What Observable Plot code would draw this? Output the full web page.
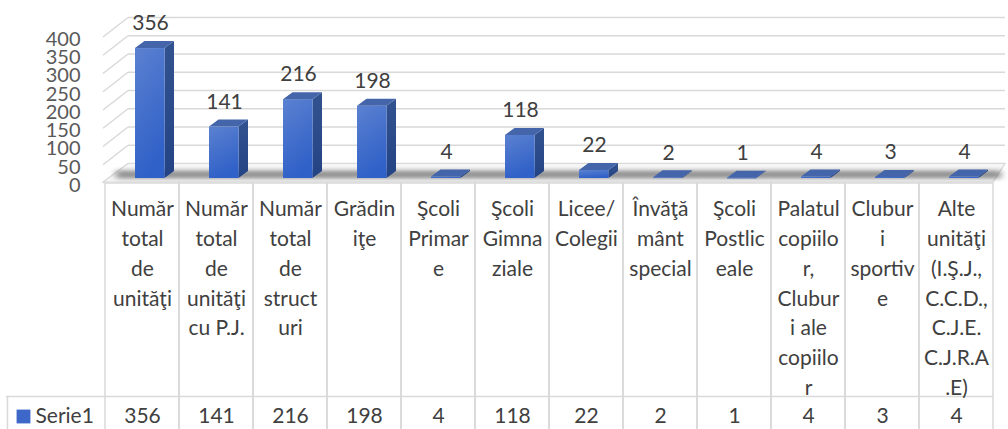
<!DOCTYPE html>
<html>
<head>
<meta charset="utf-8">
<script src="https://cdn.jsdelivr.net/npm/d3@7"></script>
<script src="https://cdn.jsdelivr.net/npm/@observablehq/plot@0.6"></script>
<style>
  html, body { margin: 0; padding: 0; background: #ffffff; }
  #chart svg { display: block; }
</style>
</head>
<body>
<div id="chart"></div>
<script>
// ---- data ----
const categoryLines = [
  "Număr\ntotal\nde\nunităţi",
  "Număr\ntotal\nde\nunităţi\ncu P.J.",
  "Număr\ntotal\nde\nstruct\nuri",
  "Grădin\niţe",
  "Şcoli\nPrimar\ne",
  "Şcoli\nGimna\nziale",
  "Licee/\nColegii",
  "Învăţă\nmânt\nspecial",
  "Şcoli\nPostlic\neale",
  "Palatul\ncopiilo\nr,\nClubur\ni ale\ncopiilo\nr",
  "Clubur\ni\nsportiv\ne",
  "Alte\nunităţi\n(I.Ş.J.,\nC.C.D.,\nC.J.E.\nC.J.R.A\n.E)"
];
const values = [356, 141, 216, 198, 4, 118, 22, 2, 1, 4, 3, 4];
const yTicks = [0, 50, 100, 150, 200, 250, 300, 350, 400];
const seriesName = "Serie1";

const data = categoryLines.map((c, i) => ({cat: c, value: values[i]}));

// ---- style constants ----
const FONT = "Lato, 'Open Sans', sans-serif";
const TEXT = "#404040";
const GRID = "#d9d9d9";
const DEPTH_X = 9.5, DEPTH_Y = -7;      // bar depth
const WALL_X = 24, WALL_Y = -14.5;      // wall depth
const INSET_L = 30, INSET_R = 14.5;

// walls + floor drawn via scales
function wallRender(index, scales, values, dims) {
  const g = d3.create("svg:g");
  const y = scales.y;
  const x0 = dims.marginLeft, x1 = dims.width - dims.marginRight;
  const defs = g.append("defs");
  const f = defs.append("filter").attr("id", "shadowBlur").attr("x", "-5%").attr("y", "-100%").attr("width", "110%").attr("height", "300%");
  f.append("feGaussianBlur").attr("stdDeviation", "3.5 2.2");
  // back wall gridlines
  for (const t of yTicks) {
    const yb = y(t) + WALL_Y;
    g.append("line").attr("x1", x0 + WALL_X).attr("x2", x1 + 12).attr("y1", yb).attr("y2", yb)
      .attr("stroke", GRID).attr("stroke-width", 1.5);
    g.append("line").attr("x1", x0 - 1).attr("x2", x0 + WALL_X).attr("y1", y(t) + 5).attr("y2", yb)
      .attr("stroke", GRID).attr("stroke-width", 1.5);
  }
  // floor
  const yf = y(0) + 4, yb0 = y(0) + WALL_Y;
  g.append("polygon")
    .attr("points", [[x0 - 1, yf], [x1, yf], [x1 + 12, yb0], [x0 + WALL_X, yb0]].map(p => p.join(",")).join(" "))
    .attr("fill", "#f6f6f6").attr("stroke", GRID).attr("stroke-width", 1.2);
  // shadow strip
  g.append("rect").attr("x", x0 + 12).attr("width", x1 - x0 - 4).attr("y", y(0) - 7.5).attr("height", 8)
    .attr("fill", "#555").attr("opacity", 0.62).attr("filter", "url(#shadowBlur)");
  return g.node();
}

function barRender(index, scales, values, dims) {
  const g = d3.create("svg:g");
  const x = scales.x, y = scales.y, bw = x.bandwidth();
  const defs = g.append("defs");
  const fg = defs.append("linearGradient").attr("id", "frontGrad").attr("x1", 0).attr("y1", 0).attr("x2", 0.3).attr("y2", 1);
  fg.append("stop").attr("offset", "0%").attr("stop-color", "#5b81d0");
  fg.append("stop").attr("offset", "100%").attr("stop-color", "#3061c8");
  const sg = defs.append("linearGradient").attr("id", "sideGrad").attr("x1", 0).attr("y1", 0).attr("x2", 0).attr("y2", 1);
  sg.append("stop").attr("offset", "0%").attr("stop-color", "#32528f");
  sg.append("stop").attr("offset", "100%").attr("stop-color", "#234384");
  for (const i of index) {
    const d = data[i];
    const xl = x(d.cat) + INSET_L, xr = x(d.cat) + bw - INSET_R;
    const yt = y(d.value), yb = y(0);
    const pts = a => a.map(p => p.join(",")).join(" ");
    // side face
    g.append("polygon").attr("points", pts([[xr, yb], [xr + DEPTH_X, yb + DEPTH_Y], [xr + DEPTH_X, yt + DEPTH_Y], [xr, yt]]))
      .attr("fill", "url(#sideGrad)");
    // front face
    g.append("rect").attr("x", xl).attr("y", yt).attr("width", xr - xl).attr("height", Math.max(0.8, yb - yt))
      .attr("fill", "url(#frontGrad)");
    // top face
    g.append("polygon").attr("points", pts([[xl, yt], [xr, yt], [xr + DEPTH_X, yt + DEPTH_Y], [xl + DEPTH_X, yt + DEPTH_Y]]))
      .attr("fill", "#4565ab");
  }
  return g.node();
}

const bandHalf = 37.04;
const plot = Plot.plot({
  width: 1008,
  height: 429,
  marginLeft: 104,
  marginRight: 15,
  marginTop: 32,
  marginBottom: 251,
  style: {fontFamily: FONT, fontSize: "21px", color: TEXT, background: "#ffffff", overflow: "visible"},
  x: {type: "band", domain: categoryLines, padding: 0, axis: null},
  y: {domain: [0, 400], axis: null},
  marks: [
    Plot.ruleY([0], {render: wallRender}),
    Plot.barY(data, {x: "cat", y: "value", render: barRender}),
    // data labels
    Plot.text(data, {x: "cat", y: "value", text: d => String(d.value), dx: 8, dy: -25,
      fill: TEXT, fontSize: 21, lineAnchor: "middle"}),
    // y tick labels
    Plot.text(yTicks, {y: d => d, text: d => String(d), frameAnchor: "left", textAnchor: "end",
      dx: -24, dy: 7, fill: "#595959", fontSize: 20, lineAnchor: "middle"}),
    // data table: cells
    Plot.cell(categoryLines, {x: d => d, fill: "none", stroke: GRID, strokeWidth: 1.5,
      insetTop: 151, insetBottom: -252}),
    Plot.ruleY([0], {dy: 218, insetLeft: -98, stroke: GRID, strokeWidth: 1.5}),
    Plot.ruleX([categoryLines[0]], {dx: -bandHalf - 98, insetTop: 364, insetBottom: -252, stroke: GRID, strokeWidth: 1.5}),
    // header labels
    Plot.text(categoryLines, {x: d => d, text: d => d, frameAnchor: "bottom", lineAnchor: "top",
      dy: 16.5, lineHeight: 1.42, fill: TEXT, fontSize: 21}),
    // value row
    Plot.text(data, {x: "cat", text: d => String(d.value), frameAnchor: "bottom", lineAnchor: "middle",
      dy: 238, fill: TEXT, fontSize: 21}),
    // legend cell
    Plot.dot([seriesName], {frameAnchor: "bottom-left", dx: -104 + 23, dy: 238, symbol: "square", r: 7.8,
      fill: "#3d67c8", stroke: null}),
    Plot.text([seriesName], {text: d => d, frameAnchor: "bottom-left", textAnchor: "start", lineAnchor: "middle",
      dx: -104 + 35, dy: 238, fill: TEXT, fontSize: 21})
  ]
});
document.getElementById("chart").appendChild(plot);
</script>
</body>
</html>
